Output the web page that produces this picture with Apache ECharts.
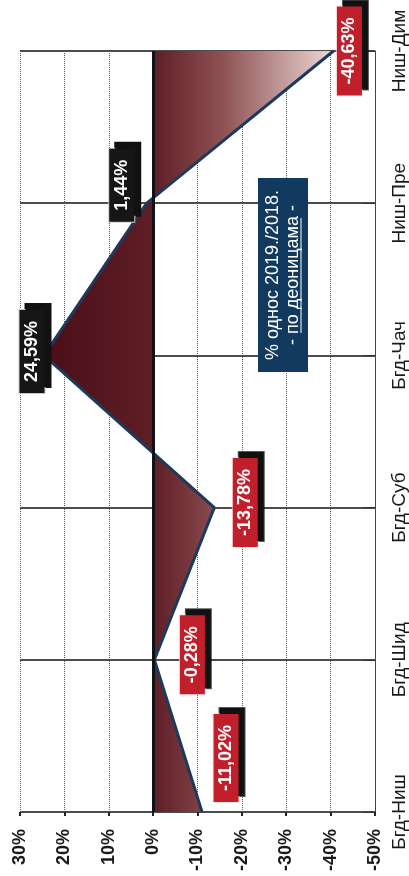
<!DOCTYPE html>
<html>
<head>
<meta charset="utf-8">
<script src="https://cdn.jsdelivr.net/npm/echarts@6/dist/echarts.min.js"></script>
<style>
  html, body { margin: 0; padding: 0; background: #fff; }
  #chart { width: 409px; height: 876px; }
</style>
</head>
<body>
<div id="chart"></div>
<script>
// sections, bottom to top
const sections = ['Бгд-Ниш', 'Бгд-Шид', 'Бгд-Суб', 'Бгд-Чач', 'Ниш-Пре', 'Ниш-Дим'];
// % change 2019 vs 2018
const changePct = [-11.02, -0.28, -13.78, 24.59, 1.44, -40.63];
// value axis ticks
const axisMin = -50;
const axisMax = 30;
const axisStep = 10;
const noteText = '% однос 2019./2018.\n- по деоницама -';

// hand placement of the value boxes (screen px: right, down), like the original
const labelShift = [[24, -54], [38, -5], [31, -5], [-12, -4], [-25, -18], [16, 0]];

const FONT = '"Liberation Sans", Arial, sans-serif';
const fmt = (v) => v.toFixed(2).replace('.', ',') + '%';

const chart = echarts.init(document.getElementById('chart'), null, { renderer: 'canvas' });

const seriesData = changePct.map((v, i) => {
  const [sx, sy] = labelShift[i];
  return {
    value: v,
    label: {
      backgroundColor: v < 0 ? '#c21f2c' : '#161616',
      borderColor: v < 0 ? 'rgba(255,220,220,0.7)' : '#c8c8c8',
      // label is rotated 90deg, so the offset is given in the rotated frame
      offset: [-sy, sx],
    },
  };
});

const option = {
  animation: false,
  grid: { left: 20, right: 32, top: 51, bottom: 64, containLabel: false },
  xAxis: {
    type: 'value',
    inverse: true,
    min: axisMin,
    max: axisMax,
    interval: axisStep,
    position: 'bottom',
    axisLine: { onZero: false, lineStyle: { color: '#222', width: 2.5 } },
    axisTick: { show: true, length: 4, lineStyle: { color: '#222', width: 2 } },
    axisLabel: {
      rotate: 90,
      margin: 17,
      fontSize: 18,
      fontWeight: 'bold',
      fontFamily: FONT,
      color: '#1a1a1a',
      formatter: '{value}%',
    },
    splitLine: { show: true, lineStyle: { color: '#555', width: 1, type: 'dotted' } },
  },
  yAxis: {
    type: 'category',
    data: sections,
    boundaryGap: false,
    position: 'right',
    axisLine: { onZero: false, lineStyle: { color: '#444', width: 1 } },
    axisTick: { show: true, inside: true, length: 12, lineStyle: { color: '#333', width: 1 } },
    axisLabel: {
      rotate: 90,
      margin: 15,
      fontSize: 19,
      fontFamily: FONT,
      color: '#1a1a1a',
    },
    splitLine: { show: true, lineStyle: { color: '#111', width: 1.5 } },
  },
  series: [
    {
      type: 'line',
      data: seriesData,
      symbol: 'circle',
      symbolSize: 0.1,
      itemStyle: { color: '#1d3a5c' },
      lineStyle: { color: '#1d3a5c', width: 3 },
      areaStyle: {
        origin: 'auto',
        opacity: 1,
        color: new echarts.graphic.LinearGradient(0, 0, 1, 0, [
          { offset: 0, color: '#4a0e17' },
          { offset: 0.38, color: '#5e1e26' },
          { offset: 0.62, color: '#8f5254' },
          { offset: 1, color: '#ecd8d6' },
        ]),
      },
      label: {
        show: true,
        position: 'inside',
        rotate: 90,
        formatter: (p) => fmt(p.value),
        color: '#fff',
        fontSize: 18,
        fontWeight: 'bold',
        fontFamily: FONT,
        padding: [4, 11, 3, 11],
        borderWidth: 1,
        shadowColor: '#111',
        shadowBlur: 0,
        shadowOffsetX: 6,
        shadowOffsetY: -6,
      },
      markLine: {
        silent: true,
        symbol: 'none',
        label: { show: false },
        lineStyle: { color: '#101418', width: 3, type: 'solid' },
        data: [{ xAxis: 0 }],
      },
      z: 3,
    },
  ],
  graphic: [
    {
      type: 'text',
      x: 283,
      y: 275,
      rotation: Math.PI / 2,
      z: 10,
      style: {
        text: noteText,
        fill: '#fff',
        font: '18px ' + FONT,
        align: 'center',
        verticalAlign: 'middle',
        lineHeight: 20,
        backgroundColor: '#123a5e',
        padding: [5, 12],
      },
    },
    {
      type: 'line',
      z: 11,
      shape: { x1: 301, y1: 218, x2: 301, y2: 333 },
      style: { stroke: '#fff', lineWidth: 1 },
    },
  ],
};

chart.setOption(option);
window.addEventListener('resize', () => chart.resize());
</script>
</body>
</html>
